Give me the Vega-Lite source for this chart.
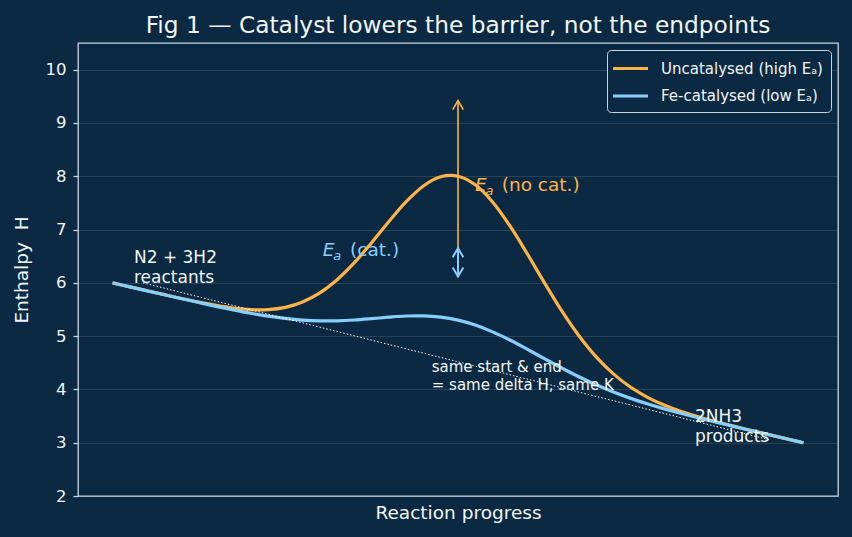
{
  "$schema": "https://vega.github.io/schema/vega-lite/v6.json",
  "width": 760,
  "height": 453,
  "autosize": {"type": "none"},
  "padding": {"left": 78, "top": 43, "right": 14, "bottom": 41},
  "background": "#0b2942",
  "config": {
    "font": "DejaVu Sans",
    "view": {"stroke": "#c9d6e3", "strokeWidth": 1.3, "fill": "#0b2942"},
    "axis": {"labelFont": "DejaVu Sans", "titleFont": "DejaVu Sans", "titleFontWeight": "normal"},
    "legend": {"labelFont": "DejaVu Sans"}
  },
  "title": {
    "text": "Fig 1 — Catalyst lowers the barrier, not the endpoints",
    "fontSize": 23.3,
    "fontWeight": "normal",
    "color": "#f2f5f8",
    "anchor": "middle",
    "offset": 5
  },
  "datasets": {
    "curves": [
      {"t": 0, "H": 6.000, "series": "Uncatalysed (high Eₐ)"},
      {"t": 0.025, "H": 5.925, "series": "Uncatalysed (high Eₐ)"},
      {"t": 0.05, "H": 5.851, "series": "Uncatalysed (high Eₐ)"},
      {"t": 0.075, "H": 5.778, "series": "Uncatalysed (high Eₐ)"},
      {"t": 0.1, "H": 5.706, "series": "Uncatalysed (high Eₐ)"},
      {"t": 0.125, "H": 5.638, "series": "Uncatalysed (high Eₐ)"},
      {"t": 0.15, "H": 5.577, "series": "Uncatalysed (high Eₐ)"},
      {"t": 0.175, "H": 5.527, "series": "Uncatalysed (high Eₐ)"},
      {"t": 0.2, "H": 5.497, "series": "Uncatalysed (high Eₐ)"},
      {"t": 0.225, "H": 5.497, "series": "Uncatalysed (high Eₐ)"},
      {"t": 0.25, "H": 5.540, "series": "Uncatalysed (high Eₐ)"},
      {"t": 0.275, "H": 5.641, "series": "Uncatalysed (high Eₐ)"},
      {"t": 0.3, "H": 5.811, "series": "Uncatalysed (high Eₐ)"},
      {"t": 0.325, "H": 6.058, "series": "Uncatalysed (high Eₐ)"},
      {"t": 0.35, "H": 6.378, "series": "Uncatalysed (high Eₐ)"},
      {"t": 0.375, "H": 6.753, "series": "Uncatalysed (high Eₐ)"},
      {"t": 0.4, "H": 7.150, "series": "Uncatalysed (high Eₐ)"},
      {"t": 0.425, "H": 7.522, "series": "Uncatalysed (high Eₐ)"},
      {"t": 0.45, "H": 7.818, "series": "Uncatalysed (high Eₐ)"},
      {"t": 0.475, "H": 7.989, "series": "Uncatalysed (high Eₐ)"},
      {"t": 0.5, "H": 8.000, "series": "Uncatalysed (high Eₐ)"},
      {"t": 0.525, "H": 7.839, "series": "Uncatalysed (high Eₐ)"},
      {"t": 0.55, "H": 7.518, "series": "Uncatalysed (high Eₐ)"},
      {"t": 0.575, "H": 7.072, "series": "Uncatalysed (high Eₐ)"},
      {"t": 0.6, "H": 6.550, "series": "Uncatalysed (high Eₐ)"},
      {"t": 0.625, "H": 6.003, "series": "Uncatalysed (high Eₐ)"},
      {"t": 0.65, "H": 5.478, "series": "Uncatalysed (high Eₐ)"},
      {"t": 0.675, "H": 5.008, "series": "Uncatalysed (high Eₐ)"},
      {"t": 0.7, "H": 4.611, "series": "Uncatalysed (high Eₐ)"},
      {"t": 0.725, "H": 4.291, "series": "Uncatalysed (high Eₐ)"},
      {"t": 0.75, "H": 4.040, "series": "Uncatalysed (high Eₐ)"},
      {"t": 0.775, "H": 3.847, "series": "Uncatalysed (high Eₐ)"},
      {"t": 0.8, "H": 3.697, "series": "Uncatalysed (high Eₐ)"},
      {"t": 0.825, "H": 3.577, "series": "Uncatalysed (high Eₐ)"},
      {"t": 0.85, "H": 3.479, "series": "Uncatalysed (high Eₐ)"},
      {"t": 0.875, "H": 3.388, "series": "Uncatalysed (high Eₐ)"},
      {"t": 0.9, "H": 3.306, "series": "Uncatalysed (high Eₐ)"},
      {"t": 0.925, "H": 3.228, "series": "Uncatalysed (high Eₐ)"},
      {"t": 0.95, "H": 3.151, "series": "Uncatalysed (high Eₐ)"},
      {"t": 0.975, "H": 3.075, "series": "Uncatalysed (high Eₐ)"},
      {"t": 1, "H": 3.000, "series": "Uncatalysed (high Eₐ)"},
      {"t": 0, "H": 6.000, "series": "Fe-catalysed (low Eₐ)"},
      {"t": 0.025, "H": 5.925, "series": "Fe-catalysed (low Eₐ)"},
      {"t": 0.05, "H": 5.850, "series": "Fe-catalysed (low Eₐ)"},
      {"t": 0.075, "H": 5.776, "series": "Fe-catalysed (low Eₐ)"},
      {"t": 0.1, "H": 5.702, "series": "Fe-catalysed (low Eₐ)"},
      {"t": 0.125, "H": 5.630, "series": "Fe-catalysed (low Eₐ)"},
      {"t": 0.15, "H": 5.559, "series": "Fe-catalysed (low Eₐ)"},
      {"t": 0.175, "H": 5.492, "series": "Fe-catalysed (low Eₐ)"},
      {"t": 0.2, "H": 5.430, "series": "Fe-catalysed (low Eₐ)"},
      {"t": 0.225, "H": 5.376, "series": "Fe-catalysed (low Eₐ)"},
      {"t": 0.25, "H": 5.332, "series": "Fe-catalysed (low Eₐ)"},
      {"t": 0.275, "H": 5.301, "series": "Fe-catalysed (low Eₐ)"},
      {"t": 0.3, "H": 5.286, "series": "Fe-catalysed (low Eₐ)"},
      {"t": 0.325, "H": 5.287, "series": "Fe-catalysed (low Eₐ)"},
      {"t": 0.35, "H": 5.302, "series": "Fe-catalysed (low Eₐ)"},
      {"t": 0.375, "H": 5.327, "series": "Fe-catalysed (low Eₐ)"},
      {"t": 0.4, "H": 5.355, "series": "Fe-catalysed (low Eₐ)"},
      {"t": 0.425, "H": 5.377, "series": "Fe-catalysed (low Eₐ)"},
      {"t": 0.45, "H": 5.380, "series": "Fe-catalysed (low Eₐ)"},
      {"t": 0.475, "H": 5.357, "series": "Fe-catalysed (low Eₐ)"},
      {"t": 0.5, "H": 5.300, "series": "Fe-catalysed (low Eₐ)"},
      {"t": 0.525, "H": 5.207, "series": "Fe-catalysed (low Eₐ)"},
      {"t": 0.55, "H": 5.080, "series": "Fe-catalysed (low Eₐ)"},
      {"t": 0.575, "H": 4.927, "series": "Fe-catalysed (low Eₐ)"},
      {"t": 0.6, "H": 4.755, "series": "Fe-catalysed (low Eₐ)"},
      {"t": 0.625, "H": 4.577, "series": "Fe-catalysed (low Eₐ)"},
      {"t": 0.65, "H": 4.402, "series": "Fe-catalysed (low Eₐ)"},
      {"t": 0.675, "H": 4.237, "series": "Fe-catalysed (low Eₐ)"},
      {"t": 0.7, "H": 4.086, "series": "Fe-catalysed (low Eₐ)"},
      {"t": 0.725, "H": 3.951, "series": "Fe-catalysed (low Eₐ)"},
      {"t": 0.75, "H": 3.832, "series": "Fe-catalysed (low Eₐ)"},
      {"t": 0.775, "H": 3.726, "series": "Fe-catalysed (low Eₐ)"},
      {"t": 0.8, "H": 3.630, "series": "Fe-catalysed (low Eₐ)"},
      {"t": 0.825, "H": 3.542, "series": "Fe-catalysed (low Eₐ)"},
      {"t": 0.85, "H": 3.459, "series": "Fe-catalysed (low Eₐ)"},
      {"t": 0.875, "H": 3.380, "series": "Fe-catalysed (low Eₐ)"},
      {"t": 0.9, "H": 3.302, "series": "Fe-catalysed (low Eₐ)"},
      {"t": 0.925, "H": 3.226, "series": "Fe-catalysed (low Eₐ)"},
      {"t": 0.95, "H": 3.150, "series": "Fe-catalysed (low Eₐ)"},
      {"t": 0.975, "H": 3.075, "series": "Fe-catalysed (low Eₐ)"},
      {"t": 1, "H": 3.000, "series": "Fe-catalysed (low Eₐ)"}
    ],
    "guide": [
      {"t": 0.044, "H": 6.0},
      {"t": 0.952, "H": 3.05}
    ],
    "arrows": [
      {"which": "uncat", "t": 0.5, "lo": 6.12, "hi": 9.42},
      {"which": "cat", "t": 0.5, "lo": 6.12, "hi": 6.65}
    ],
    "notes": [
      {"which": "reactants", "t": 0.031, "H": 6.381, "label": "N2 + 3H2\nreactants"},
      {"which": "products", "t": 0.843, "H": 3.395, "label": "2NH3\nproducts"},
      {"which": "same", "t": 0.462, "H": 4.334, "label": "same start & end\n= same delta H, same K"}
    ],
    "ea": [
      {"which": "cat", "t": 0.3042, "H": 6.507, "rest": "(cat.)"},
      {"which": "uncat", "t": 0.5246, "H": 7.714, "rest": "(no cat.)"}
    ]
  },
  "layer": [
    {
      "data": {"name": "curves"},
      "mark": {"type": "line", "strokeWidth": 3.2, "interpolate": "catmull-rom"},
      "encoding": {
        "x": {"field": "t", "type": "quantitative", "scale": {"domain": [-0.05, 1.05], "nice": false, "zero": false},
              "axis": {"title": "Reaction progress", "labels": false, "ticks": false, "domain": false, "grid": false,
                       "titleFontSize": 18.5, "titleColor": "#f2f5f8", "titlePadding": 7}},
        "y": {"field": "H", "type": "quantitative", "scale": {"domain": [2, 10.5], "nice": false, "zero": false},
              "axis": {"title": "Enthalpy\u00a0\u00a0H", "values": [2, 3, 4, 5, 6, 7, 8, 9, 10], "labelFontSize": 16.5,
                       "labelColor": "#f2f5f8", "titleColor": "#f2f5f8", "titleFontSize": 18.5, "titlePadding": 14,
                       "tickColor": "#c9d6e3", "tickSize": 5, "tickWidth": 1.3, "labelPadding": 7, "domain": false,
                       "grid": true, "gridColor": "#ffffff", "gridOpacity": 0.16, "gridWidth": 0.8}},
        "color": {"field": "series", "type": "nominal",
                  "scale": {"domain": ["Uncatalysed (high Eₐ)", "Fe-catalysed (low Eₐ)"], "range": ["#ffb347", "#87cefa"]},
                  "legend": {"title": null, "orient": "top-right", "offset": 7, "padding": 8, "strokeColor": "#c9d6e3",
                             "fillColor": "#0b2942", "cornerRadius": 4, "labelColor": "#f2f5f8", "labelFontSize": 15,
                             "labelLimit": 400,
                             "symbolType": "M-2,0L2,0", "symbolSize": 306, "symbolStrokeWidth": 3, "rowPadding": 8.5,
                             "symbolOffset": 5, "labelOffset": 20}},
        "order": {"field": "t", "type": "quantitative"}
      }
    },
    {
      "data": {"name": "guide"},
      "mark": {"type": "line", "color": "#ffffff", "strokeWidth": 1, "strokeDash": [1.5, 2]},
      "encoding": {"x": {"field": "t", "type": "quantitative"}, "y": {"field": "H", "type": "quantitative"}}
    },
    {
      "data": {"name": "arrows"},
      "transform": [{"filter": "datum.which == 'uncat'"}],
      "mark": {"type": "rule", "color": "#ffb347", "strokeWidth": 1.6},
      "encoding": {"x": {"field": "t", "type": "quantitative"}, "y": {"field": "lo", "type": "quantitative"}, "y2": {"field": "hi"}}
    },
    {
      "data": {"name": "arrows"},
      "transform": [{"filter": "datum.which == 'uncat'"}],
      "mark": {"type": "point", "shape": "M-0.59,1L0,0L0.59,1", "size": 324, "filled": false, "stroke": "#ffb347", "strokeWidth": 1.6, "opacity": 1},
      "encoding": {"x": {"field": "t", "type": "quantitative"}, "y": {"field": "hi", "type": "quantitative"}}
    },
    {
      "data": {"name": "arrows"},
      "transform": [{"filter": "datum.which == 'cat'"}],
      "mark": {"type": "rule", "color": "#87cefa", "strokeWidth": 2},
      "encoding": {"x": {"field": "t", "type": "quantitative"}, "y": {"field": "lo", "type": "quantitative"}, "y2": {"field": "hi"}}
    },
    {
      "data": {"name": "arrows"},
      "transform": [{"filter": "datum.which == 'cat'"}],
      "mark": {"type": "point", "shape": "M-0.59,1L0,0L0.59,1", "size": 324, "filled": false, "stroke": "#87cefa", "strokeWidth": 2, "opacity": 1},
      "encoding": {"x": {"field": "t", "type": "quantitative"}, "y": {"field": "hi", "type": "quantitative"}}
    },
    {
      "data": {"name": "arrows"},
      "transform": [{"filter": "datum.which == 'cat'"}],
      "mark": {"type": "point", "shape": "M-0.59,-1L0,0L0.59,-1", "size": 324, "filled": false, "stroke": "#87cefa", "strokeWidth": 2, "opacity": 1},
      "encoding": {"x": {"field": "t", "type": "quantitative"}, "y": {"field": "lo", "type": "quantitative"}}
    },
    {
      "data": {"name": "notes"},
      "transform": [{"filter": "datum.which != 'same'"}],
      "mark": {"type": "text", "align": "left", "baseline": "alphabetic", "fontSize": 17, "lineHeight": 20, "lineBreak": "\n", "color": "#f2f5f8"},
      "encoding": {"x": {"field": "t", "type": "quantitative"}, "y": {"field": "H", "type": "quantitative"}, "text": {"field": "label"}}
    },
    {
      "data": {"name": "notes"},
      "transform": [{"filter": "datum.which == 'same'"}],
      "mark": {"type": "text", "align": "left", "baseline": "alphabetic", "fontSize": 15, "lineHeight": 18, "lineBreak": "\n", "color": "#f2f5f8"},
      "encoding": {"x": {"field": "t", "type": "quantitative"}, "y": {"field": "H", "type": "quantitative"}, "text": {"field": "label"}}
    },
    {
      "data": {"name": "ea"},
      "transform": [{"filter": "datum.which == 'cat'"}],
      "layer": [
        {"mark": {"type": "text", "align": "left", "baseline": "alphabetic", "fontSize": 18.5, "fontStyle": "italic", "color": "#87cefa"},
         "encoding": {"x": {"field": "t", "type": "quantitative"}, "y": {"field": "H", "type": "quantitative"}, "text": {"value": "E"}}},
        {"mark": {"type": "text", "align": "left", "baseline": "alphabetic", "fontSize": 13, "fontStyle": "italic", "color": "#87cefa", "dx": 10.6, "dy": 4},
         "encoding": {"x": {"field": "t", "type": "quantitative"}, "y": {"field": "H", "type": "quantitative"}, "text": {"value": "a"}}},
        {"mark": {"type": "text", "align": "left", "baseline": "alphabetic", "fontSize": 18.5, "color": "#87cefa", "dx": 27.3},
         "encoding": {"x": {"field": "t", "type": "quantitative"}, "y": {"field": "H", "type": "quantitative"}, "text": {"field": "rest"}}}
      ]
    },
    {
      "data": {"name": "ea"},
      "transform": [{"filter": "datum.which == 'uncat'"}],
      "layer": [
        {"mark": {"type": "text", "align": "left", "baseline": "alphabetic", "fontSize": 18.5, "fontStyle": "italic", "color": "#ffb347"},
         "encoding": {"x": {"field": "t", "type": "quantitative"}, "y": {"field": "H", "type": "quantitative"}, "text": {"value": "E"}}},
        {"mark": {"type": "text", "align": "left", "baseline": "alphabetic", "fontSize": 13, "fontStyle": "italic", "color": "#ffb347", "dx": 10.6, "dy": 4},
         "encoding": {"x": {"field": "t", "type": "quantitative"}, "y": {"field": "H", "type": "quantitative"}, "text": {"value": "a"}}},
        {"mark": {"type": "text", "align": "left", "baseline": "alphabetic", "fontSize": 18.5, "color": "#ffb347", "dx": 26.7},
         "encoding": {"x": {"field": "t", "type": "quantitative"}, "y": {"field": "H", "type": "quantitative"}, "text": {"field": "rest"}}}
      ]
    }
  ]
}
